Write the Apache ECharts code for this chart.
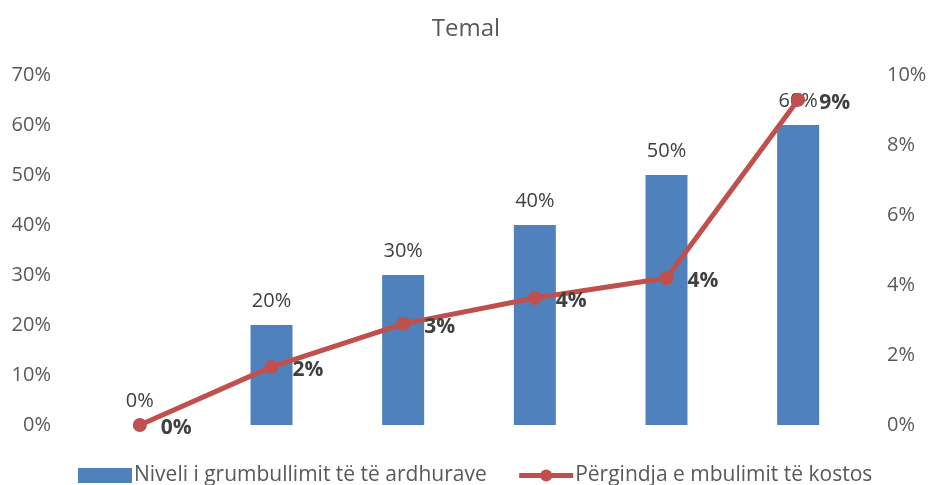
<!DOCTYPE html>
<html>
<head>
<meta charset="utf-8">
<script src="https://cdn.jsdelivr.net/npm/echarts@6/dist/echarts.min.js"></script>
<style>
html,body{margin:0;padding:0;background:#fff;}
#chart{width:932px;height:485px;}
</style>
</head>
<body>
<div id="chart"></div>
<script>
var categories = ['1', '2', '3', '4', '5', '6'];
var barValues = [0, 0.20, 0.30, 0.40, 0.50, 0.60];
var lineValues = [0, 0.0166, 0.0289, 0.0363, 0.042, 0.0929];
var barName = 'Niveli i grumbullimit të të ardhurave';
var lineName = 'Përgindja e mbulimit të kostos';

var dom = document.getElementById('chart');
var myChart = echarts.init(dom);

function pct(v){
    return Math.round(v * 100) + '%';
}

var font = 'Open Sans';

var option = {
    animation: false,
    title: {
        text: 'Temal',
        left: 'center',
        top: 12,
        textStyle: {
            fontFamily: font,
            fontSize: 24,
            fontWeight: 'normal',
            color: '#595959'
        }
    },
    legend: {
        bottom: -6,
        left: 73,
        itemGap: 30,
        itemWidth: 54,
        itemHeight: 15,
        textStyle: {
            fontFamily: font,
            fontSize: 21,
            color: '#595959',
            padding: [0, 0, 0, -3]
        },
        data: [
            {name: barName, icon: 'rect'},
            {name: lineName, lineStyle: {width: 5}}
        ]
    },
    grid: {
        left: 74,
        right: 68,
        top: 75,
        bottom: 60
    },
    xAxis: [{
        type: 'category',
        data: categories,
        axisLine: {show: false},
        axisTick: {show: false},
        axisLabel: {show: false}
    }],
    yAxis: [{
        type: 'value',
        min: 0,
        max: 0.7,
        interval: 0.1,
        splitLine: {show: false},
        axisLine: {show: false},
        axisTick: {show: false},
        axisLabel: {
            margin: 23,
            fontFamily: font,
            fontSize: 20,
            color: '#595959',
            formatter: pct
        }
    }, {
        type: 'value',
        min: 0,
        max: 0.1,
        interval: 0.02,
        splitLine: {show: false},
        axisLine: {show: false},
        axisTick: {show: false},
        axisLabel: {
            margin: 23,
            fontFamily: font,
            fontSize: 20,
            color: '#595959',
            formatter: pct
        }
    }],
    series: [{
        name: barName,
        type: 'bar',
        barWidth: 42,
        itemStyle: {color: '#4F81BD'},
        label: {
            show: true,
            position: 'top',
            distance: 14,
            fontFamily: font,
            fontSize: 20,
            color: '#404040',
            formatter: function(p){ return pct(p.value); }
        },
        data: barValues
    }, {
        name: lineName,
        type: 'line',
        yAxisIndex: 1,
        symbol: 'circle',
        symbolSize: 14,
        lineStyle: {color: '#C0504D', width: 5},
        itemStyle: {color: '#C0504D'},
        label: {
            show: true,
            position: 'right',
            distance: 14,
            offset: [0, 3],
            fontFamily: font,
            fontSize: 21,
            fontWeight: 'bold',
            color: '#404040',
            formatter: function(p){ return pct(p.value); }
        },
        data: lineValues
    }]
};

myChart.setOption(option);
</script>
</body>
</html>
